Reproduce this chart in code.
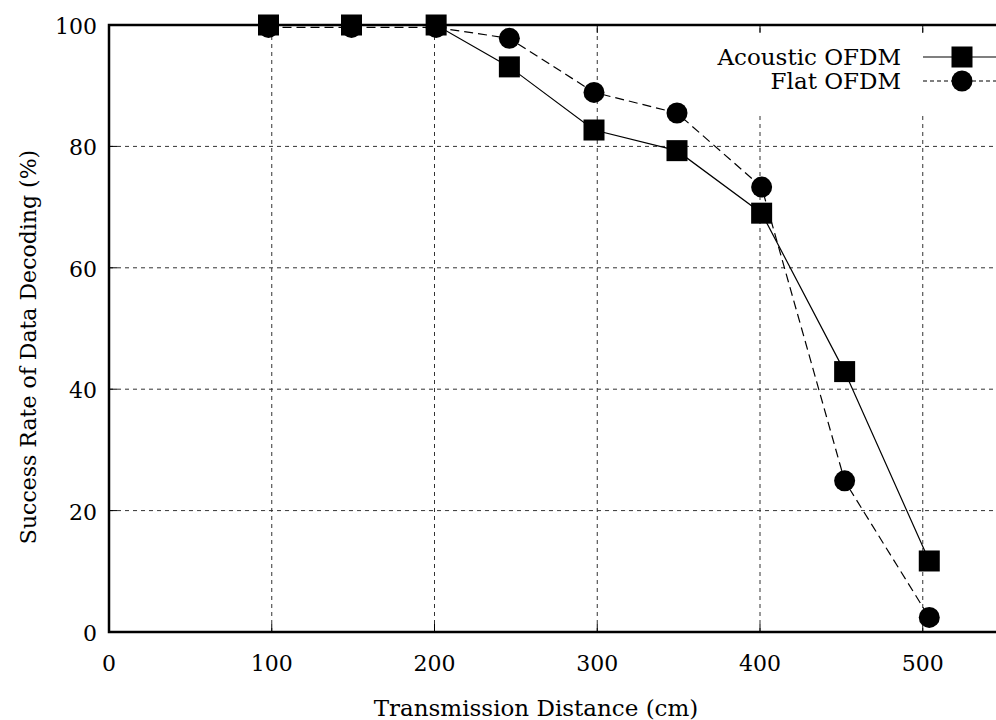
<!DOCTYPE html>
<html>
<head>
<meta charset="utf-8">
<script src="https://cdn.jsdelivr.net/npm/d3@7"></script>
<style>
  body { margin: 0; background: #fff; }
  text { font-family: "DejaVu Serif", serif; font-size: 23px; fill: #000; }
  .tick-label { font-size: 22px; }
</style>
</head>
<body>
<div id="canvas"></div>
<script>
// chart size and plot margins
var width = 996,
  height = 720;
var margin = { top: 25, right: 0, bottom: 88, left: 109 };

// data
var distances = [98, 149, 201, 246, 298, 349, 401, 452, 504];
var acousticRate = [100, 100, 100, 93.1, 82.7, 79.3, 69.0, 42.9, 11.7];
var flatRate = [99.6, 99.6, 99.6, 97.8, 88.9, 85.5, 73.3, 24.9, 2.4];
var xTicks = [0, 100, 200, 300, 400, 500];
var yTicks = [0, 20, 40, 60, 80, 100];
var seriesNames = ["Acoustic OFDM", "Flat OFDM"];

var svg = d3
  .select("#canvas")
  .append("svg")
  .attr("width", width)
  .attr("height", height);

var x = d3
  .scaleLinear()
  .domain([0, 545])
  .range([margin.left, width - margin.right]);
var y = d3
  .scaleLinear()
  .domain([0, 100])
  .range([height - margin.bottom, margin.top]);

var x0 = x.range()[0],
  x1 = x.range()[1],
  yb = y(0),
  yt = y(100);

// grid lines
var grid = svg.append("g").attr("stroke", "#333").attr("stroke-width", 1).attr("stroke-dasharray", "4,4");
grid
  .selectAll(".vg")
  .data(xTicks.filter((d) => d > 0))
  .enter()
  .append("line")
  .attr("x1", (d) => x(d))
  .attr("x2", (d) => x(d))
  .attr("y1", yb)
  .attr("y2", yt);
grid
  .selectAll(".hg")
  .data(yTicks.filter((d) => d > 0 && d < 100))
  .enter()
  .append("line")
  .attr("x1", x0)
  .attr("x2", x1)
  .attr("y1", (d) => y(d))
  .attr("y2", (d) => y(d));

// opaque key background
svg
  .append("rect")
  .attr("x", 712)
  .attr("y", 33)
  .attr("width", 290)
  .attr("height", 80)
  .attr("fill", "#fff");

// ticks (inward, also mirrored on top)
var ticks = svg.append("g").attr("stroke", "#000").attr("stroke-width", 1);
xTicks.forEach((d) => {
  ticks.append("line").attr("x1", x(d)).attr("x2", x(d)).attr("y1", yb).attr("y2", yb - 8);
  ticks.append("line").attr("x1", x(d)).attr("x2", x(d)).attr("y1", yt).attr("y2", yt + 8);
});
yTicks.forEach((d) => {
  ticks.append("line").attr("x1", x0).attr("x2", x0 + 8).attr("y1", y(d)).attr("y2", y(d));
});

// lines
var line = d3
  .line()
  .x((d, i) => x(distances[i]))
  .y((d) => y(d));

svg
  .append("path")
  .datum(acousticRate)
  .attr("d", line)
  .attr("fill", "none")
  .attr("stroke", "#000")
  .attr("stroke-width", 1.2);

svg
  .append("path")
  .datum(flatRate)
  .attr("d", line)
  .attr("fill", "none")
  .attr("stroke", "#000")
  .attr("stroke-width", 1.2)
  .attr("stroke-dasharray", "9,5");

// markers
svg
  .selectAll(".dot")
  .data(flatRate)
  .enter()
  .append("circle")
  .attr("cx", (d, i) => x(distances[i]))
  .attr("cy", (d) => y(d))
  .attr("r", 10.5)
  .attr("fill", "#000");

svg
  .selectAll(".sq")
  .data(acousticRate)
  .enter()
  .append("rect")
  .attr("x", (d, i) => x(distances[i]) - 10.5)
  .attr("y", (d) => y(d) - 10.5)
  .attr("width", 21)
  .attr("height", 21)
  .attr("fill", "#000");

// border
svg
  .append("path")
  .attr("d", "M" + x1 + "," + yt + "H" + x0 + "V" + yb + "H" + x1)
  .attr("fill", "none")
  .attr("stroke", "#000")
  .attr("stroke-width", 2.5);

// axis labels
svg
  .selectAll(".xl")
  .data(xTicks)
  .enter()
  .append("text")
  .attr("class", "tick-label")
  .attr("x", (d) => x(d))
  .attr("y", 671)
  .attr("text-anchor", "middle")
  .text((d) => d);

svg
  .selectAll(".yl")
  .data(yTicks)
  .enter()
  .append("text")
  .attr("class", "tick-label")
  .attr("x", 97)
  .attr("y", (d) => y(d) + 9)
  .attr("text-anchor", "end")
  .text((d) => d);

svg
  .append("text")
  .attr("x", 536)
  .attr("y", 716)
  .attr("text-anchor", "middle")
  .text("Transmission Distance (cm)");

svg
  .append("text")
  .attr("transform", "translate(36,347) rotate(-90)")
  .attr("text-anchor", "middle")
  .style("font-size", "22px")
  .text("Success Rate of Data Decoding (%)");

// legend
var key = svg.append("g");
seriesNames.forEach((name, i) => {
  var ky = 57 + i * 24;
  key
    .append("text")
    .attr("x", 901)
    .attr("y", ky + 8)
    .attr("text-anchor", "end")
    .text(name);
  key
    .append("line")
    .attr("x1", 923)
    .attr("x2", 1000)
    .attr("y1", ky)
    .attr("y2", ky)
    .attr("stroke", "#000")
    .attr("stroke-width", 1.2)
    .attr("stroke-dasharray", i == 0 ? null : "4,3");
  if (i == 0) {
    key.append("rect").attr("x", 962 - 10.5).attr("y", ky - 10.5).attr("width", 21).attr("height", 21);
  } else {
    key.append("circle").attr("cx", 962).attr("cy", ky).attr("r", 10.5);
  }
});
</script>
</body>
</html>
